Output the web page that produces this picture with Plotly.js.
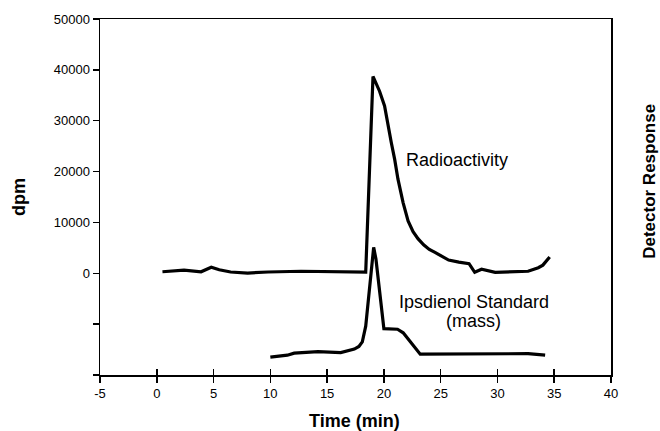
<!DOCTYPE html>
<html>
<head>
<meta charset="utf-8">
<script src="https://cdn.plot.ly/plotly-3.0.1.min.js"></script>
<style>html,body{margin:0;padding:0;background:#fff;}#chart{width:660px;height:431px;}</style>
</head>
<body>
<div id="chart"></div>
<script>
// Radioactivity trace (dpm)
var radioTime = [0.5, 1.5, 2.4, 3.9, 4.8, 5.5, 6.5, 8.0, 9.8, 12.7, 17.1, 18.4, 19.04, 19.62, 20.06, 20.36, 20.65, 20.95, 21.24, 21.69, 22.13, 22.57, 23.0, 23.5, 24.0, 24.5, 25.0, 25.7, 26.6, 27.5, 28.0, 28.6, 29.8, 31.5, 32.7, 33.6, 34.0, 34.6];
var radioDpm  = [300, 500, 600, 300, 1200, 700, 250, 50, 250, 400, 250, 250, 38700, 35800, 32900, 29000, 25700, 22400, 18500, 13900, 10300, 8200, 6800, 5600, 4700, 4100, 3400, 2600, 2200, 1900, 200, 800, 200, 250, 400, 1100, 1600, 3200];
// Ipsdienol standard (mass detector response, drawn on the dpm scale offset)
var stdTime = [10.0, 11.5, 12.1, 13.6, 14.2, 16.2, 17.4, 17.8, 18.1, 18.4, 19.1, 19.3, 20.0, 21.2, 21.7, 23.2, 32.7, 34.2];
var stdResp = [-16500, -16100, -15700, -15500, -15400, -15600, -14900, -14400, -13500, -10400, 5100, 2800, -10900, -11000, -11700, -15900, -15800, -16100];

var yTickVals = [50000, 40000, 30000, 20000, 10000, 0, -10000, -20000];
var yTickText = ["50000", "40000", "30000", "20000", "10000", "0", "", ""];
var xTickVals = [-5, 0, 5, 10, 15, 20, 25, 30, 35, 40];
var xTickText = ["-5", "0", "5", "10", "15", "20", "25", "30", "35", "40"];

var lineStyle = {color: '#000', width: 3.2, shape: 'linear'};
var traces = [
  {x: radioTime, y: radioDpm, mode: 'lines', line: lineStyle, hoverinfo: 'none', showlegend: false},
  {x: stdTime, y: stdResp, mode: 'lines', line: lineStyle, hoverinfo: 'none', showlegend: false}
];

var tickFont = {family: 'Arial, Liberation Sans, sans-serif', size: 13, color: '#000'};
var titleFont = {family: 'Arial, Liberation Sans, sans-serif', size: 18, color: '#000', weight: 'bold'};
var annFont = {family: 'Arial, Liberation Sans, sans-serif', size: 18, color: '#000'};

var layout = {
  width: 660, height: 431,
  margin: {l: 100, r: 49, t: 19, b: 56, pad: 0},
  paper_bgcolor: '#fff', plot_bgcolor: '#fff',
  showlegend: false,
  xaxis: {
    range: [-5, 40], tickmode: 'array', tickvals: xTickVals, ticktext: xTickText,
    showline: true, linecolor: '#000', linewidth: 1.5, mirror: true,
    ticks: 'outside', ticklen: 6, tickwidth: 1.5, tickcolor: '#000',
    showgrid: false, zeroline: false, tickfont: tickFont, fixedrange: true
  },
  xaxis2: {
    overlaying: 'x', anchor: 'y', side: 'bottom',
    range: [-5, 40], tickmode: 'array', tickvals: xTickVals,
    showticklabels: false, showline: false,
    ticks: 'inside', ticklen: 6, tickwidth: 1.5, tickcolor: '#000',
    showgrid: false, zeroline: false
  },
  yaxis: {
    range: [-20000, 50000], tickmode: 'array', tickvals: yTickVals, ticktext: yTickText,
    showline: true, linecolor: '#000', linewidth: 1.5, mirror: true,
    ticks: 'outside', ticklen: 6, tickwidth: 1.5, tickcolor: '#000',
    showgrid: false, zeroline: false, tickfont: tickFont, fixedrange: true
  },
  annotations: [
    {xref: 'paper', yref: 'paper', x: 0.499, y: -0.128, text: 'Time (min)', showarrow: false,
     xanchor: 'center', yanchor: 'middle', font: titleFont},
    {xref: 'paper', yref: 'paper', x: -0.1585, y: 0.5, text: 'dpm', showarrow: false, textangle: -90,
     xanchor: 'center', yanchor: 'middle', font: titleFont},
    {xref: 'paper', yref: 'paper', x: 1.076, y: 0.545, text: 'Detector Response', showarrow: false, textangle: -90,
     xanchor: 'center', yanchor: 'middle', font: {family: titleFont.family, size: 17, color: '#000', weight: 'bold'}},
    {xref: 'x', yref: 'y', x: 26.4, y: 22200, text: 'Radioactivity', showarrow: false,
     xanchor: 'center', yanchor: 'middle', font: annFont},
    {xref: 'x', yref: 'y', x: 27.9, y: -5700, text: 'Ipsdienol Standard', showarrow: false,
     xanchor: 'center', yanchor: 'middle', font: annFont},
    {xref: 'x', yref: 'y', x: 27.9, y: -9400, text: '(mass)', showarrow: false,
     xanchor: 'center', yanchor: 'middle', font: annFont}
  ]
};

traces.push({x: [], y: [], xaxis: 'x2', yaxis: 'y', mode: 'lines', showlegend: false, hoverinfo: 'none'});

Plotly.newPlot('chart', traces, layout, {staticPlot: true, displayModeBar: false});
</script>
</body>
</html>
